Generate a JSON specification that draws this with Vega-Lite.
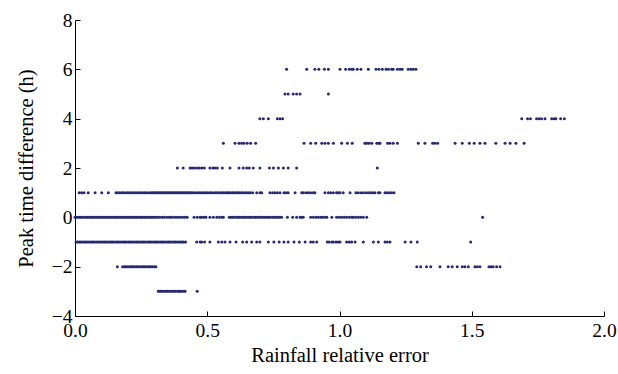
{
  "$schema": "https://vega.github.io/schema/vega-lite/v6.json",
  "width": 529,
  "height": 296,
  "autosize": {"type": "none"},
  "padding": {"left": 75, "top": 20, "right": 14, "bottom": 58},
  "background": "white",
  "config": {"view": {"stroke": null}},
  "data": {"values": [
    {"x":0.000,"y":0},{"x":0.005,"y":0},{"x":0.011,"y":0},{"x":0.017,"y":0},{"x":0.022,"y":0},{"x":0.028,"y":0},{"x":0.035,"y":0},{"x":0.041,"y":0},{"x":0.046,"y":0},{"x":0.052,"y":0},{"x":0.059,"y":0},{"x":0.065,"y":0},{"x":0.070,"y":0},{"x":0.076,"y":0},{"x":0.083,"y":0},{"x":0.089,"y":0},{"x":0.094,"y":0},{"x":0.101,"y":0},{"x":0.107,"y":0},{"x":0.112,"y":0},{"x":0.118,"y":0},{"x":0.125,"y":0},{"x":0.131,"y":0},{"x":0.136,"y":0},{"x":0.143,"y":0},{"x":0.149,"y":0},{"x":0.154,"y":0},{"x":0.160,"y":0},{"x":0.167,"y":0},{"x":0.173,"y":0},{"x":0.178,"y":0},{"x":0.185,"y":0},{"x":0.191,"y":0},{"x":0.196,"y":0},{"x":0.203,"y":0},{"x":0.209,"y":0},{"x":0.214,"y":0},{"x":0.221,"y":0},{"x":0.227,"y":0},{"x":0.232,"y":0},{"x":0.238,"y":0},{"x":0.245,"y":0},{"x":0.251,"y":0},{"x":0.256,"y":0},{"x":0.263,"y":0},{"x":0.269,"y":0},{"x":0.274,"y":0},{"x":0.281,"y":0},{"x":0.287,"y":0},{"x":0.292,"y":0},{"x":0.299,"y":0},{"x":0.305,"y":0},
    {"x":0.313,"y":0},{"x":0.321,"y":0},{"x":0.330,"y":0},{"x":0.338,"y":0},{"x":0.347,"y":0},{"x":0.356,"y":0},{"x":0.363,"y":0},{"x":0.372,"y":0},{"x":0.381,"y":0},{"x":0.389,"y":0},{"x":0.398,"y":0},{"x":0.407,"y":0},{"x":0.415,"y":0},{"x":0.424,"y":0},
    {"x":0.450,"y":0},{"x":0.462,"y":0},{"x":0.473,"y":0},{"x":0.479,"y":0},{"x":0.488,"y":0},{"x":0.495,"y":0},{"x":0.510,"y":0},{"x":0.523,"y":0},{"x":0.536,"y":0},{"x":0.546,"y":0},{"x":0.555,"y":0},{"x":0.561,"y":0},
    {"x":0.583,"y":0},{"x":0.590,"y":0},{"x":0.596,"y":0},{"x":0.603,"y":0},{"x":0.611,"y":0},{"x":0.617,"y":0},{"x":0.623,"y":0},{"x":0.631,"y":0},{"x":0.637,"y":0},{"x":0.644,"y":0},{"x":0.650,"y":0},{"x":0.658,"y":0},{"x":0.664,"y":0},{"x":0.671,"y":0},{"x":0.679,"y":0},{"x":0.684,"y":0},{"x":0.691,"y":0},{"x":0.699,"y":0},{"x":0.705,"y":0},{"x":0.712,"y":0},{"x":0.718,"y":0},{"x":0.726,"y":0},{"x":0.732,"y":0},{"x":0.739,"y":0},{"x":0.747,"y":0},{"x":0.753,"y":0},{"x":0.760,"y":0},{"x":0.767,"y":0},{"x":0.774,"y":0},{"x":0.781,"y":0},
    {"x":0.803,"y":0},{"x":0.823,"y":0},{"x":0.838,"y":0},{"x":0.851,"y":0},{"x":0.857,"y":0},{"x":0.863,"y":0},{"x":0.891,"y":0},{"x":0.901,"y":0},{"x":0.911,"y":0},{"x":0.920,"y":0},{"x":0.929,"y":0},{"x":0.936,"y":0},{"x":0.945,"y":0},{"x":0.952,"y":0},{"x":0.971,"y":0},{"x":0.989,"y":0},{"x":0.999,"y":0},{"x":1.008,"y":0},{"x":1.018,"y":0},{"x":1.027,"y":0},{"x":1.037,"y":0},{"x":1.046,"y":0},{"x":1.052,"y":0},{"x":1.061,"y":0},{"x":1.071,"y":0},{"x":1.080,"y":0},{"x":1.090,"y":0},{"x":1.103,"y":0},{"x":1.541,"y":0},
    {"x":0.016,"y":1},{"x":0.025,"y":1},{"x":0.034,"y":1},{"x":0.050,"y":1},{"x":0.076,"y":1},{"x":0.101,"y":1},{"x":0.126,"y":1},
    {"x":0.155,"y":1},{"x":0.161,"y":1},{"x":0.168,"y":1},{"x":0.176,"y":1},{"x":0.182,"y":1},{"x":0.189,"y":1},{"x":0.197,"y":1},{"x":0.203,"y":1},{"x":0.210,"y":1},{"x":0.218,"y":1},{"x":0.224,"y":1},{"x":0.231,"y":1},{"x":0.239,"y":1},{"x":0.245,"y":1},{"x":0.252,"y":1},{"x":0.260,"y":1},{"x":0.266,"y":1},{"x":0.273,"y":1},{"x":0.281,"y":1},{"x":0.287,"y":1},{"x":0.293,"y":1},{"x":0.298,"y":1},{"x":0.303,"y":1},{"x":0.309,"y":1},{"x":0.313,"y":1},{"x":0.318,"y":1},{"x":0.324,"y":1},{"x":0.328,"y":1},{"x":0.333,"y":1},{"x":0.339,"y":1},{"x":0.343,"y":1},{"x":0.348,"y":1},{"x":0.354,"y":1},{"x":0.358,"y":1},{"x":0.363,"y":1},{"x":0.369,"y":1},{"x":0.373,"y":1},{"x":0.378,"y":1},{"x":0.384,"y":1},{"x":0.388,"y":1},{"x":0.393,"y":1},{"x":0.399,"y":1},{"x":0.403,"y":1},{"x":0.408,"y":1},{"x":0.414,"y":1},{"x":0.418,"y":1},{"x":0.423,"y":1},{"x":0.429,"y":1},{"x":0.433,"y":1},{"x":0.438,"y":1},{"x":0.444,"y":1},{"x":0.451,"y":1},{"x":0.458,"y":1},{"x":0.466,"y":1},{"x":0.472,"y":1},{"x":0.479,"y":1},{"x":0.487,"y":1},{"x":0.493,"y":1},{"x":0.500,"y":1},{"x":0.508,"y":1},{"x":0.514,"y":1},{"x":0.521,"y":1},{"x":0.529,"y":1},{"x":0.535,"y":1},{"x":0.542,"y":1},{"x":0.550,"y":1},{"x":0.556,"y":1},{"x":0.562,"y":1},{"x":0.568,"y":1},{"x":0.575,"y":1},{"x":0.580,"y":1},{"x":0.586,"y":1},{"x":0.593,"y":1},{"x":0.598,"y":1},{"x":0.604,"y":1},{"x":0.611,"y":1},{"x":0.616,"y":1},{"x":0.622,"y":1},{"x":0.629,"y":1},{"x":0.634,"y":1},{"x":0.641,"y":1},{"x":0.649,"y":1},{"x":0.656,"y":1},{"x":0.663,"y":1},{"x":0.672,"y":1},{"x":0.687,"y":1},{"x":0.699,"y":1},{"x":0.706,"y":1},
    {"x":0.737,"y":1},{"x":0.747,"y":1},{"x":0.756,"y":1},{"x":0.765,"y":1},{"x":0.775,"y":1},{"x":0.790,"y":1},{"x":0.798,"y":1},{"x":0.806,"y":1},{"x":0.832,"y":1},{"x":0.857,"y":1},{"x":0.863,"y":1},{"x":0.873,"y":1},{"x":0.882,"y":1},{"x":0.891,"y":1},{"x":0.901,"y":1},{"x":0.907,"y":1},{"x":0.945,"y":1},{"x":0.958,"y":1},{"x":0.967,"y":1},{"x":0.977,"y":1},{"x":0.989,"y":1},{"x":0.995,"y":1},{"x":1.002,"y":1},{"x":1.014,"y":1},{"x":1.040,"y":1},{"x":1.062,"y":1},{"x":1.071,"y":1},{"x":1.081,"y":1},{"x":1.090,"y":1},{"x":1.100,"y":1},{"x":1.109,"y":1},{"x":1.118,"y":1},{"x":1.126,"y":1},{"x":1.134,"y":1},{"x":1.147,"y":1},{"x":1.153,"y":1},{"x":1.172,"y":1},{"x":1.179,"y":1},{"x":1.188,"y":1},{"x":1.197,"y":1},{"x":1.206,"y":1},
    {"x":0.004,"y":-1},{"x":0.010,"y":-1},{"x":0.016,"y":-1},{"x":0.021,"y":-1},{"x":0.027,"y":-1},{"x":0.034,"y":-1},{"x":0.040,"y":-1},{"x":0.045,"y":-1},{"x":0.051,"y":-1},{"x":0.058,"y":-1},{"x":0.064,"y":-1},{"x":0.069,"y":-1},{"x":0.075,"y":-1},{"x":0.082,"y":-1},{"x":0.088,"y":-1},{"x":0.093,"y":-1},{"x":0.099,"y":-1},{"x":0.106,"y":-1},{"x":0.112,"y":-1},{"x":0.117,"y":-1},{"x":0.123,"y":-1},{"x":0.130,"y":-1},{"x":0.136,"y":-1},{"x":0.141,"y":-1},{"x":0.147,"y":-1},{"x":0.154,"y":-1},{"x":0.160,"y":-1},{"x":0.165,"y":-1},{"x":0.171,"y":-1},{"x":0.178,"y":-1},{"x":0.184,"y":-1},{"x":0.189,"y":-1},{"x":0.195,"y":-1},{"x":0.202,"y":-1},{"x":0.208,"y":-1},{"x":0.213,"y":-1},{"x":0.219,"y":-1},{"x":0.226,"y":-1},{"x":0.232,"y":-1},{"x":0.237,"y":-1},{"x":0.243,"y":-1},{"x":0.250,"y":-1},{"x":0.256,"y":-1},{"x":0.261,"y":-1},{"x":0.267,"y":-1},{"x":0.274,"y":-1},{"x":0.280,"y":-1},{"x":0.285,"y":-1},{"x":0.291,"y":-1},{"x":0.298,"y":-1},{"x":0.304,"y":-1},{"x":0.309,"y":-1},{"x":0.315,"y":-1},{"x":0.322,"y":-1},{"x":0.328,"y":-1},{"x":0.333,"y":-1},{"x":0.339,"y":-1},{"x":0.346,"y":-1},{"x":0.352,"y":-1},{"x":0.357,"y":-1},{"x":0.363,"y":-1},{"x":0.370,"y":-1},{"x":0.376,"y":-1},{"x":0.381,"y":-1},{"x":0.387,"y":-1},{"x":0.394,"y":-1},{"x":0.400,"y":-1},{"x":0.405,"y":-1},{"x":0.411,"y":-1},{"x":0.418,"y":-1},
    {"x":0.460,"y":-1},{"x":0.473,"y":-1},{"x":0.479,"y":-1},{"x":0.490,"y":-1},{"x":0.510,"y":-1},{"x":0.542,"y":-1},{"x":0.555,"y":-1},{"x":0.567,"y":-1},{"x":0.586,"y":-1},{"x":0.609,"y":-1},{"x":0.634,"y":-1},{"x":0.649,"y":-1},{"x":0.668,"y":-1},{"x":0.687,"y":-1},{"x":0.699,"y":-1},{"x":0.731,"y":-1},{"x":0.752,"y":-1},{"x":0.772,"y":-1},{"x":0.790,"y":-1},{"x":0.806,"y":-1},{"x":0.828,"y":-1},{"x":0.848,"y":-1},{"x":0.870,"y":-1},{"x":0.891,"y":-1},{"x":0.901,"y":-1},{"x":0.914,"y":-1},{"x":0.954,"y":-1},{"x":0.961,"y":-1},{"x":0.971,"y":-1},{"x":0.977,"y":-1},{"x":0.987,"y":-1},{"x":0.995,"y":-1},{"x":1.002,"y":-1},{"x":1.027,"y":-1},{"x":1.037,"y":-1},{"x":1.046,"y":-1},{"x":1.059,"y":-1},{"x":1.090,"y":-1},{"x":1.128,"y":-1},{"x":1.147,"y":-1},{"x":1.172,"y":-1},{"x":1.181,"y":-1},{"x":1.191,"y":-1},{"x":1.248,"y":-1},{"x":1.270,"y":-1},{"x":1.294,"y":-1},{"x":1.496,"y":-1},
    {"x":0.160,"y":-2},{"x":0.180,"y":-2},{"x":0.186,"y":-2},{"x":0.191,"y":-2},{"x":0.197,"y":-2},{"x":0.204,"y":-2},{"x":0.210,"y":-2},{"x":0.215,"y":-2},{"x":0.221,"y":-2},{"x":0.228,"y":-2},{"x":0.234,"y":-2},{"x":0.239,"y":-2},{"x":0.245,"y":-2},{"x":0.252,"y":-2},{"x":0.258,"y":-2},{"x":0.263,"y":-2},{"x":0.269,"y":-2},{"x":0.276,"y":-2},{"x":0.282,"y":-2},{"x":0.287,"y":-2},{"x":0.293,"y":-2},{"x":0.300,"y":-2},{"x":0.306,"y":-2},
    {"x":1.292,"y":-2},{"x":1.307,"y":-2},{"x":1.329,"y":-2},{"x":1.345,"y":-2},{"x":1.380,"y":-2},{"x":1.411,"y":-2},{"x":1.426,"y":-2},{"x":1.445,"y":-2},{"x":1.464,"y":-2},{"x":1.474,"y":-2},{"x":1.487,"y":-2},{"x":1.512,"y":-2},{"x":1.521,"y":-2},{"x":1.531,"y":-2},{"x":1.565,"y":-2},{"x":1.573,"y":-2},{"x":1.581,"y":-2},{"x":1.594,"y":-2},{"x":1.607,"y":-2},
    {"x":0.315,"y":-3},{"x":0.321,"y":-3},{"x":0.326,"y":-3},{"x":0.332,"y":-3},{"x":0.339,"y":-3},{"x":0.345,"y":-3},{"x":0.350,"y":-3},{"x":0.356,"y":-3},{"x":0.363,"y":-3},{"x":0.369,"y":-3},{"x":0.374,"y":-3},{"x":0.380,"y":-3},{"x":0.387,"y":-3},{"x":0.393,"y":-3},{"x":0.398,"y":-3},{"x":0.404,"y":-3},{"x":0.411,"y":-3},{"x":0.416,"y":-3},{"x":0.462,"y":-3},
    {"x":0.387,"y":2},{"x":0.409,"y":2},{"x":0.435,"y":2},{"x":0.443,"y":2},{"x":0.451,"y":2},{"x":0.460,"y":2},{"x":0.470,"y":2},{"x":0.479,"y":2},{"x":0.489,"y":2},{"x":0.510,"y":2},{"x":0.521,"y":2},{"x":0.529,"y":2},{"x":0.538,"y":2},{"x":0.557,"y":2},{"x":0.586,"y":2},{"x":0.620,"y":2},{"x":0.636,"y":2},{"x":0.649,"y":2},{"x":0.659,"y":2},{"x":0.674,"y":2},{"x":0.699,"y":2},{"x":0.735,"y":2},{"x":0.750,"y":2},{"x":0.769,"y":2},{"x":0.788,"y":2},{"x":0.806,"y":2},{"x":0.838,"y":2},{"x":1.143,"y":2},
    {"x":0.561,"y":3},{"x":0.605,"y":3},{"x":0.620,"y":3},{"x":0.630,"y":3},{"x":0.639,"y":3},{"x":0.651,"y":3},{"x":0.664,"y":3},{"x":0.683,"y":3},{"x":0.866,"y":3},{"x":0.891,"y":3},{"x":0.910,"y":3},{"x":0.933,"y":3},{"x":0.945,"y":3},{"x":0.958,"y":3},{"x":0.977,"y":3},{"x":1.008,"y":3},{"x":1.030,"y":3},{"x":1.048,"y":3},{"x":1.096,"y":3},{"x":1.103,"y":3},{"x":1.112,"y":3},{"x":1.122,"y":3},{"x":1.141,"y":3},{"x":1.149,"y":3},{"x":1.153,"y":3},{"x":1.182,"y":3},{"x":1.191,"y":3},{"x":1.203,"y":3},{"x":1.219,"y":3},{"x":1.298,"y":3},{"x":1.323,"y":3},{"x":1.352,"y":3},{"x":1.361,"y":3},{"x":1.371,"y":3},{"x":1.437,"y":3},{"x":1.464,"y":3},{"x":1.491,"y":3},{"x":1.509,"y":3},{"x":1.531,"y":3},{"x":1.550,"y":3},{"x":1.591,"y":3},{"x":1.626,"y":3},{"x":1.645,"y":3},{"x":1.667,"y":3},{"x":1.698,"y":3},
    {"x":0.699,"y":4},{"x":0.712,"y":4},{"x":0.731,"y":4},{"x":0.765,"y":4},{"x":0.775,"y":4},{"x":0.785,"y":4},{"x":1.689,"y":4},{"x":1.711,"y":4},{"x":1.722,"y":4},{"x":1.745,"y":4},{"x":1.755,"y":4},{"x":1.764,"y":4},{"x":1.777,"y":4},{"x":1.802,"y":4},{"x":1.811,"y":4},{"x":1.818,"y":4},{"x":1.836,"y":4},{"x":1.850,"y":4},
    {"x":0.794,"y":5},{"x":0.806,"y":5},{"x":0.825,"y":5},{"x":0.838,"y":5},{"x":0.851,"y":5},{"x":0.958,"y":5},
    {"x":0.800,"y":6},{"x":0.876,"y":6},{"x":0.907,"y":6},{"x":0.922,"y":6},{"x":0.943,"y":6},{"x":0.958,"y":6},{"x":1.002,"y":6},{"x":1.023,"y":6},{"x":1.037,"y":6},{"x":1.046,"y":6},{"x":1.052,"y":6},{"x":1.067,"y":6},{"x":1.081,"y":6},{"x":1.109,"y":6},{"x":1.138,"y":6},{"x":1.149,"y":6},{"x":1.162,"y":6},{"x":1.176,"y":6},{"x":1.185,"y":6},{"x":1.197,"y":6},{"x":1.203,"y":6},{"x":1.219,"y":6},{"x":1.229,"y":6},{"x":1.237,"y":6},{"x":1.260,"y":6},{"x":1.270,"y":6},{"x":1.279,"y":6},{"x":1.289,"y":6}
  ]},
  "mark": {"type": "point", "shape": "circle", "filled": true, "size": 9, "color": "#262a72", "opacity": 1},
  "encoding": {
    "x": {"field": "x", "type": "quantitative",
      "scale": {"domain": [0, 2], "nice": false, "zero": false},
      "axis": {"title": "Rainfall relative error", "values": [0, 0.5, 1, 1.5, 2], "format": ".1f", "grid": false,
        "tickSize": -5, "tickColor": "black", "domainColor": "black", "domainWidth": 1, "tickWidth": 1,
        "labelFlush": false, "labelOverlap": false, "labelPadding": 10, "labelFont": "Liberation Serif", "labelFontSize": 19.5, "labelColor": "black",
        "titleFont": "Liberation Serif", "titleFontSize": 20.5, "titleFontWeight": "normal", "titleColor": "black", "titlePadding": 6}},
    "y": {"field": "y", "type": "quantitative",
      "scale": {"domain": [-4, 8], "nice": false, "zero": false},
      "axis": {"title": "Peak time difference (h)", "values": [-4, -2, 0, 2, 4, 6, 8], "format": "d", "grid": false,
        "tickSize": -5, "tickColor": "black", "domainColor": "black", "domainWidth": 1, "tickWidth": 1,
        "labelFlush": false, "labelOverlap": false, "labelPadding": 8, "labelFont": "Liberation Serif", "labelFontSize": 19.5, "labelColor": "black",
        "titleFont": "Liberation Serif", "titleFontSize": 20.5, "titleFontWeight": "normal", "titleColor": "black", "titlePadding": 15}}
  }
}
